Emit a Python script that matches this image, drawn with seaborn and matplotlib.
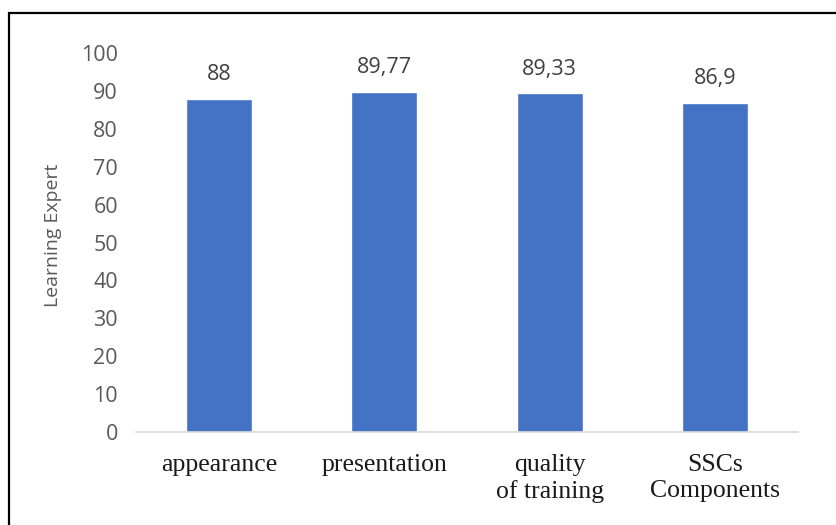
import matplotlib
matplotlib.use("Agg")
import matplotlib.pyplot as plt
import matplotlib.patches as mpatches
import seaborn as sns
import pandas as pd

categories = ["appearance", "presentation", "quality\nof training", "SSCs\nComponents"]
scores = [88, 89.77, 89.33, 86.9]
value_labels = ["88", "89,77", "89,33", "86,9"]
y_ticks = list(range(0, 101, 10))

df = pd.DataFrame({"category": categories, "score": scores})

sns.set_theme(style="white")
plt.rcParams["font.family"] = ["Open Sans", "DejaVu Sans"]

fig = plt.figure(figsize=(8.37, 5.25), dpi=100)
ax = fig.add_axes([0.1625, 0.177, 0.7909, 0.722])

sns.barplot(data=df, x="category", y="score", color="#4472C4",
            width=0.4, saturation=1, ax=ax)

ax.set_ylim(0, 100)
ax.set_yticks(y_ticks)
ax.tick_params(axis="y", labelsize=15.5, labelcolor="#595959", length=0, pad=13)
ax.tick_params(axis="x", length=0, pad=16)
for lbl in ax.get_xticklabels():
    lbl.set_fontfamily("Liberation Serif")
    lbl.set_fontsize(18.5)
    lbl.set_color("#1a1a1a")
    lbl.set_linespacing(1.2)
    lbl.set_verticalalignment("top")

ax.set_xlabel("")
ax.set_ylabel("Learning Expert", fontsize=14, color="#595959", labelpad=14)
ax.yaxis.label.set_y(0.52)

for side in ["top", "right", "left"]:
    ax.spines[side].set_visible(False)
ax.spines["bottom"].set_color("#D9D9D9")
ax.spines["bottom"].set_linewidth(1.2)

for patch, txt in zip(ax.patches, value_labels):
    ax.annotate(txt, (patch.get_x() + patch.get_width() / 2, patch.get_height()),
                xytext=(0, 17.5), textcoords="offset points", ha="center",
                va="center", fontsize=15.5, color="#404040")

# outer frame around the chart
frame = mpatches.Rectangle((9 / 837, -0.2), 2.0, 0.2 + 1 - 13 / 525,
                           transform=fig.transFigure, fill=False,
                           edgecolor="black", linewidth=1.6, clip_on=False)
fig.patches.append(frame)

fig.savefig("out.png", dpi=100)
